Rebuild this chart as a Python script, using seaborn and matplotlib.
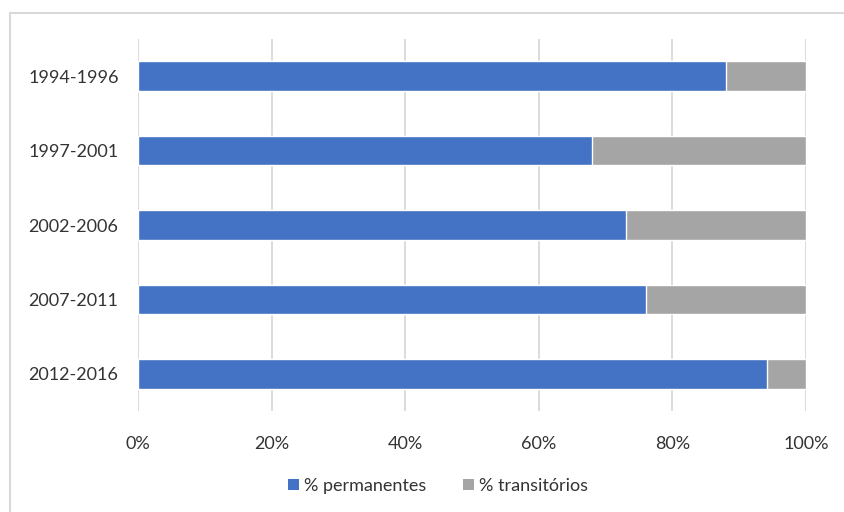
import matplotlib
matplotlib.use("Agg")
import matplotlib.pyplot as plt
from matplotlib.lines import Line2D
from matplotlib.patches import Patch
import seaborn as sns
import pandas as pd

periods = ["1994-1996", "1997-2001", "2002-2006", "2007-2011", "2012-2016"]
permanentes = [88.0, 68.0, 73.0, 76.0, 94.2]
transitorios = [12.0, 32.0, 27.0, 24.0, 5.8]
x_ticks = [0, 20, 40, 60, 80, 100]
x_tick_labels = ["0%", "20%", "40%", "60%", "80%", "100%"]
series_names = ["% permanentes", "% transitórios"]

BLUE = "#4472C4"
GREY = "#A5A5A5"
GRID = "#D9D9D9"
TEXT = "#333333"
FS = 13

sns.set_theme(style="white")
plt.rcParams["font.family"] = ["Lato", "DejaVu Sans"]

df = pd.DataFrame({
    "periodo": periods,
    "perm": permanentes,
    "total": [p + t for p, t in zip(permanentes, transitorios)],
})

fig = plt.figure(figsize=(8.44, 5.12), dpi=100)
ax = fig.add_axes([138 / 844, 1 - 411 / 512, (806 - 138) / 844, (411 - 39) / 512])

# stacked bars: full total in grey, permanent share in blue on top
sns.barplot(data=df, y="periodo", x="total", color=GREY, width=0.4,
            saturation=1, orient="h", ax=ax, zorder=2)
sns.barplot(data=df, y="periodo", x="perm", color=BLUE, width=0.4,
            saturation=1, orient="h", ax=ax, zorder=3)

ax.set_xlim(0, 100)
ax.set_ylim(4.5, -0.5)
ax.set_xticks(x_ticks)
ax.set_xticklabels(x_tick_labels)
ax.set_xlabel("")
ax.set_ylabel("")
ax.tick_params(axis="both", length=0, labelsize=FS, labelcolor=TEXT)
ax.tick_params(axis="x", pad=18)
ax.tick_params(axis="y", pad=14)
ax.xaxis.grid(True, color=GRID, linewidth=1.3, zorder=0)
ax.set_axisbelow(True)
for s in ax.spines.values():
    s.set_visible(False)

handles = [Patch(facecolor=BLUE, edgecolor="none"), Patch(facecolor=GREY, edgecolor="none")]
fig.legend(handles, series_names, loc="center", bbox_to_anchor=(438 / 844, 1 - 486 / 512),
           ncol=2, frameon=False, fontsize=FS, handlelength=0.6, handleheight=0.6,
           handletextpad=0.3, columnspacing=2.0, labelcolor=TEXT)

# chart frame
fig.add_artist(Line2D([10 / 844, 1], [1 - 13 / 512] * 2, color=GRID, linewidth=1.5,
                      transform=fig.transFigure))
fig.add_artist(Line2D([10 / 844] * 2, [0, 1 - 13 / 512], color=GRID, linewidth=1.5,
                      transform=fig.transFigure))

fig.savefig("out.png", dpi=100)
